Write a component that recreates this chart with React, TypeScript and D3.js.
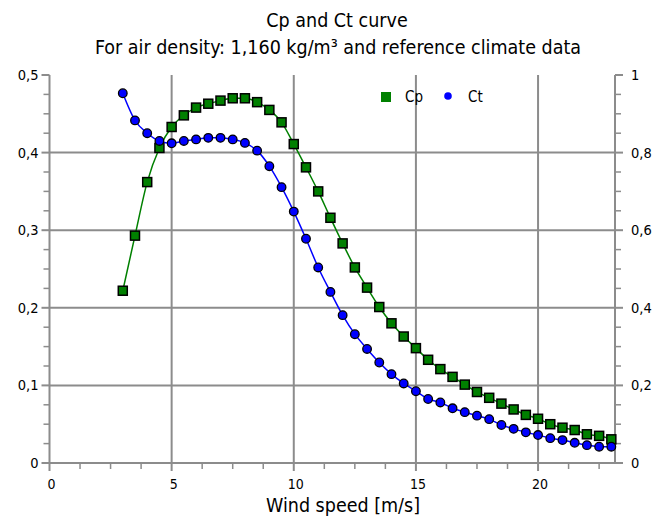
import React from "react";
import * as d3 from "d3";

const windSpeeds = [3, 3.5, 4, 4.5, 5, 5.5, 6, 6.5, 7, 7.5, 8, 8.5, 9, 9.5, 10, 10.5, 11, 11.5, 12, 12.5, 13, 13.5, 14, 14.5, 15, 15.5, 16, 16.5, 17, 17.5, 18, 18.5, 19, 19.5, 20, 20.5, 21, 21.5, 22, 22.5, 23];
const cpValues = [0.222, 0.293, 0.362, 0.406, 0.433, 0.448, 0.458, 0.463, 0.467, 0.47, 0.47, 0.465, 0.455, 0.439, 0.411, 0.381, 0.35, 0.316, 0.283, 0.252, 0.226, 0.201, 0.18, 0.163, 0.148, 0.133, 0.121, 0.111, 0.101, 0.0915, 0.084, 0.0765, 0.069, 0.062, 0.057, 0.05, 0.0455, 0.0425, 0.037, 0.035, 0.0305];
const ctValues = [0.953, 0.883, 0.85, 0.83, 0.824, 0.83, 0.834, 0.838, 0.838, 0.834, 0.825, 0.805, 0.765, 0.711, 0.648, 0.578, 0.504, 0.441, 0.381, 0.332, 0.294, 0.259, 0.229, 0.205, 0.185, 0.165, 0.156, 0.141, 0.131, 0.122, 0.113, 0.098, 0.088, 0.079, 0.072, 0.064, 0.059, 0.052, 0.046, 0.042, 0.042];
const xTicks = [0, 5, 10, 15, 20];
const leftTicks = [0, 0.1, 0.2, 0.3, 0.4, 0.5];
const rightTicks = [0, 0.2, 0.4, 0.6, 0.8, 1];
const titleLines = ["Cp and Ct curve", "For air density: 1,160 kg/m³ and reference climate data"];
const xTitle = "Wind speed [m/s]";
const seriesNames = ["Cp", "Ct"];

const W = 672;
const H = 519;
const L = 49.5;
const R = 615;
const T = 75;
const B = 463;
const FONT = "'DejaVu Sans Condensed', 'DejaVu Sans', sans-serif";
const GRID = "#8c8c8c";
const GREEN = "#008000";
const BLUE = "#0000ff";

const fmt = (v: number) => String(+v.toFixed(2)).replace(".", ",");

export default function App() {
  const x = d3.scaleLinear().domain([0, 23.15]).range([L, R]);
  const yL = d3.scaleLinear().domain([0, 0.5]).range([B, T]);
  const yR = d3.scaleLinear().domain([0, 1]).range([B, T]);

  const cpData = windSpeeds.map((w, i) => [w, cpValues[i]] as [number, number]);
  const ctData = windSpeeds.map((w, i) => [w, ctValues[i]] as [number, number]);

  const cpLine = d3.line<[number, number]>().x(d => x(d[0])).y(d => yL(d[1])).curve(d3.curveMonotoneX);
  const ctLine = d3.line<[number, number]>().x(d => x(d[0])).y(d => yR(d[1])).curve(d3.curveMonotoneX);

  const xMinor = d3.range(0, 23.2, 1.25).filter(v => !xTicks.includes(v));
  const lMinor = d3.range(0, 0.5001, 0.025).filter(v => Math.abs(v * 10 - Math.round(v * 10)) > 1e-6);
  const rMinor = d3.range(0, 1.0001, 0.05).filter(v => Math.abs(v * 5 - Math.round(v * 5)) > 1e-6);

  return (
    <svg width={W} height={H} style={{ position: "absolute", left: 0, top: 0, display: "block", background: "#fff" }} fontFamily={FONT}>
      <text x={337} y={27} textAnchor="middle" fontSize={19.5} fill="#000">{titleLines[0]}</text>
      <text x={338} y={54} textAnchor="middle" fontSize={19.5} fill="#000">{titleLines[1]}</text>

      {/* grid */}
      {xTicks.filter(t => t > 0).map(t => (
        <line key={"gx" + t} x1={x(t)} x2={x(t)} y1={T} y2={B} stroke={GRID} strokeWidth={2} />
      ))}
      {leftTicks.filter(t => t > 0 && t < 0.5).map(t => (
        <line key={"gy" + t} x1={L} x2={R} y1={yL(t)} y2={yL(t)} stroke={GRID} strokeWidth={2} />
      ))}

      {/* axes */}
      <line x1={L} x2={L} y1={T} y2={B} stroke={GRID} strokeWidth={2} />
      <line x1={R} x2={R} y1={T} y2={B} stroke={GRID} strokeWidth={2} />
      <line x1={L} x2={R} y1={B} y2={B} stroke={GRID} strokeWidth={2} />

      {/* x ticks */}
      {xTicks.map(t => (
        <g key={"xt" + t}>
          <line x1={x(t)} x2={x(t)} y1={B} y2={B + 8} stroke={GRID} strokeWidth={2} />
          <text x={x(t) + 2} y={489} textAnchor="middle" fontSize={14} fill="#000">{fmt(t)}</text>
        </g>
      ))}
      {xMinor.map(t => (
        <line key={"xm" + t} x1={x(t)} x2={x(t)} y1={B} y2={B + 6} stroke={GRID} strokeWidth={1.5} />
      ))}

      {/* left ticks */}
      {leftTicks.map(t => (
        <g key={"lt" + t}>
          <line x1={L - 8} x2={L} y1={yL(t)} y2={yL(t)} stroke={GRID} strokeWidth={2} />
          <text x={L - 11} y={yL(t)} dy="0.35em" textAnchor="end" fontSize={14.5} fill="#000">{fmt(t)}</text>
        </g>
      ))}
      {lMinor.map(t => (
        <line key={"lm" + t} x1={L - 6} x2={L} y1={yL(t)} y2={yL(t)} stroke={GRID} strokeWidth={1.5} />
      ))}

      {/* right ticks */}
      {rightTicks.map(t => (
        <g key={"rt" + t}>
          <line x1={R} x2={R + 8} y1={yR(t)} y2={yR(t)} stroke={GRID} strokeWidth={2} />
          <text x={R + 16} y={yR(t)} dy="0.35em" textAnchor="start" fontSize={14.5} fill="#000">{fmt(t)}</text>
        </g>
      ))}
      {rMinor.map(t => (
        <line key={"rm" + t} x1={R} x2={R + 6} y1={yR(t)} y2={yR(t)} stroke={GRID} strokeWidth={1.5} />
      ))}

      <text x={343} y={512} textAnchor="middle" fontSize={19.5} fill="#000">{xTitle}</text>

      {/* series */}
      <path d={cpLine(cpData) || ""} fill="none" stroke={GREEN} strokeWidth={1.5} />
      <path d={ctLine(ctData) || ""} fill="none" stroke={BLUE} strokeWidth={1.5} />
      {cpData.map((d, i) => (
        <rect key={"cp" + i} x={x(d[0]) - 4.5} y={yL(d[1]) - 4.5} width={9} height={9} fill={GREEN} stroke="#000" strokeWidth={1.5} />
      ))}
      {ctData.map((d, i) => (
        <circle key={"ct" + i} cx={x(d[0])} cy={yR(d[1])} r={4.3} fill={BLUE} stroke="#000" strokeWidth={1.3} />
      ))}

      {/* legend */}
      <rect x={381} y={92} width={10} height={10} fill={GREEN} />
      <text x={405} y={97} dy="0.35em" fontSize={15} fill="#000">{seriesNames[0]}</text>
      <circle cx={448} cy={96} r={3.8} fill={BLUE} />
      <text x={468} y={97} dy="0.35em" fontSize={15} fill="#000">{seriesNames[1]}</text>
    </svg>
  );
}
